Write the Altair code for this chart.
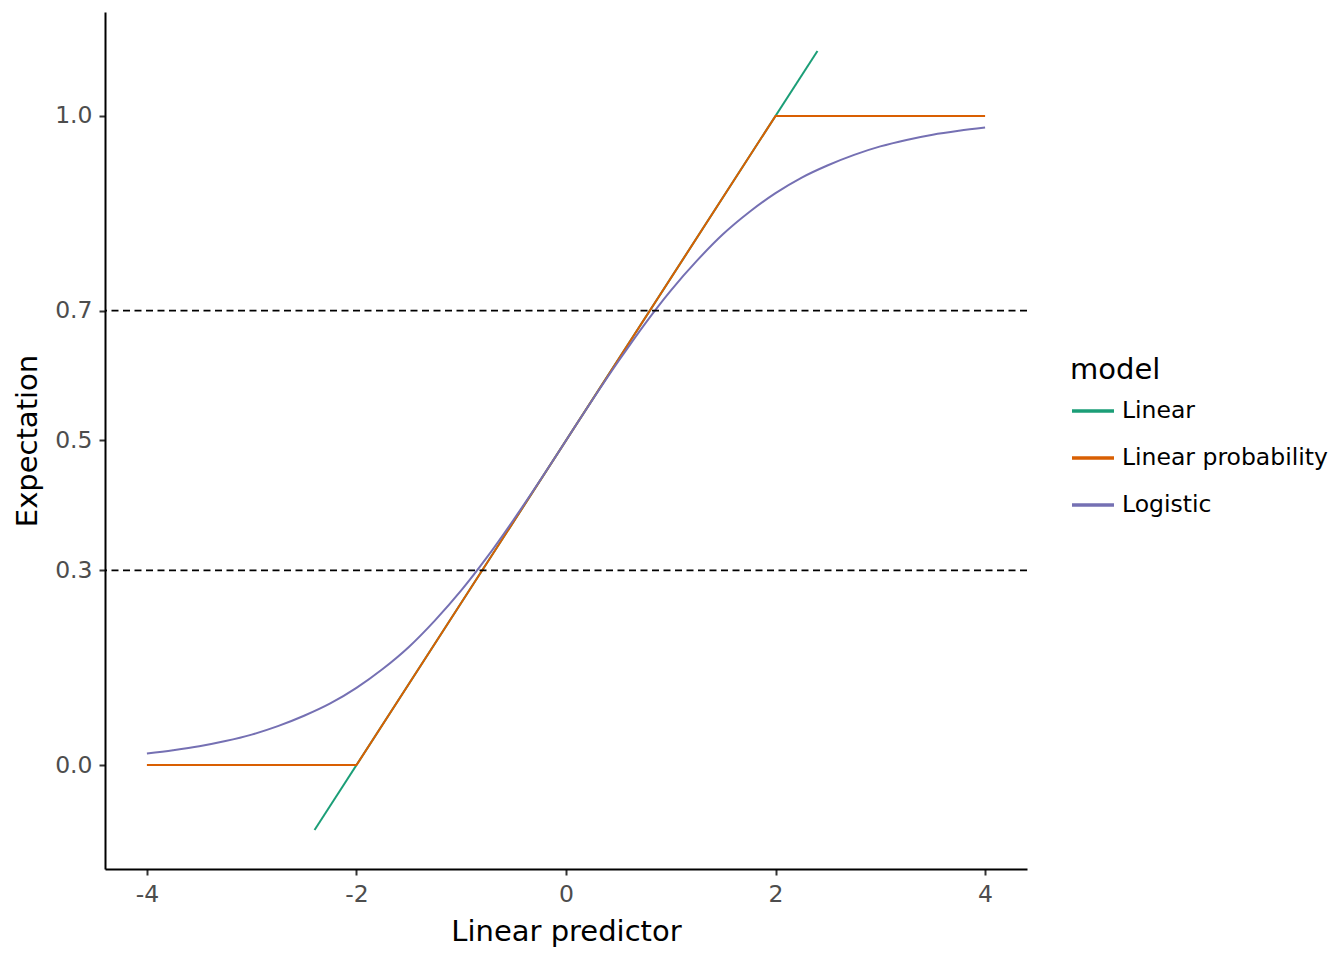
import altair as alt
import pandas as pd

# Linear model (unbounded)
lin_x = [-2.4, 2.4]
lin_y = [-0.1, 1.1]

# Linear probability model (clipped to [0, 1])
lp_x = [-4, -2, 2, 4]
lp_y = [0.0, 0.0, 1.0, 1.0]

# Logistic curve
log_x = [-4, -3.75, -3.5, -3.25, -3, -2.75, -2.5, -2.25, -2, -1.75, -1.5, -1.25,
         -1, -0.75, -0.5, -0.25, 0, 0.25, 0.5, 0.75, 1, 1.25, 1.5, 1.75,
         2, 2.25, 2.5, 2.75, 3, 3.25, 3.5, 3.75, 4]
log_y = [0.018, 0.023, 0.029, 0.037, 0.047, 0.060, 0.076, 0.095, 0.119, 0.148,
         0.182, 0.223, 0.269, 0.321, 0.378, 0.438, 0.500, 0.562, 0.622, 0.679,
         0.731, 0.777, 0.818, 0.852, 0.881, 0.905, 0.924, 0.940, 0.953, 0.963,
         0.971, 0.977, 0.982]

models = ["Linear", "Linear probability", "Logistic"]
colors = ["#1b9e77", "#d95f02", "#7570b3"]

hlines = [0.3, 0.7]
x_ticks = [-4, -2, 0, 2, 4]
y_ticks = [0.0, 0.3, 0.5, 0.7, 1.0]


def frame(xs, ys, m):
    return pd.DataFrame({"x": xs, "y": ys, "model": m, "order": list(range(len(xs)))})


df_straight = pd.concat([frame(lin_x, lin_y, "Linear"),
                         frame(lp_x, lp_y, "Linear probability")])
df_curve = frame(log_x, log_y, "Logistic")
hdf = pd.DataFrame({"y": hlines})

xscale = alt.Scale(domain=[-4.4, 4.4], nice=False, zero=False)
yscale = alt.Scale(domain=[-0.16, 1.16], nice=False, zero=False)
cscale = alt.Scale(domain=models, range=colors)

x_enc = alt.X("x:Q", scale=xscale,
              axis=alt.Axis(title="Linear predictor", values=x_ticks,
                            labelExpr="toString(datum.value)"))
y_enc = alt.Y("y:Q", scale=yscale,
              axis=alt.Axis(title="Expectation", values=y_ticks, format=".1f"))
c_enc = alt.Color("model:N", scale=cscale, legend=alt.Legend(title="model"))

straight = alt.Chart(df_straight).mark_line(strokeWidth=2).encode(
    x=x_enc, y=y_enc, color=c_enc, order="order:Q", detail="model:N",
)

curve = alt.Chart(df_curve).mark_line(strokeWidth=2, interpolate="monotone").encode(
    x=x_enc, y=y_enc, color=c_enc, order="order:Q",
)

rules = alt.Chart(hdf).mark_rule(color="black", strokeWidth=1.8,
                                 strokeDash=[7, 4.5]).encode(
    y=alt.Y("y:Q", scale=yscale)
)

chart = alt.layer(straight, curve, rules).properties(
    width=922, height=857,
    autosize=alt.AutoSizeParams(type="none"),
    padding={"left": 97, "top": 4, "right": 301, "bottom": 83},
).configure_view(stroke=None).configure_axis(
    grid=False,
    domainColor="black",
    domainWidth=2,
    tickColor="#333333",
    tickWidth=2,
    tickSize=6,
    labelFont="DejaVu Sans",
    labelFontSize=23.5,
    labelColor="#4d4d4d",
    labelPadding=7,
    titleFont="DejaVu Sans",
    titleFontSize=29,
    titleFontWeight="normal",
    titleColor="black",
).configure_axisX(titlePadding=12).configure_axisY(titlePadding=12).configure_legend(
    orient="none",
    legendX=965,
    legendY=344,
    symbolType="stroke",
    symbolSize=1764,
    symbolStrokeWidth=3.5,
    labelFont="DejaVu Sans",
    labelFontSize=23.5,
    labelColor="black",
    labelOffset=6,
    labelLimit=0,
    rowPadding=12,
    titleFont="DejaVu Sans",
    titleFontSize=29,
    titleFontWeight="normal",
    titleColor="black",
    titlePadding=3,
)

chart.save("out.html", embed_options={"renderer": "svg", "actions": False})
